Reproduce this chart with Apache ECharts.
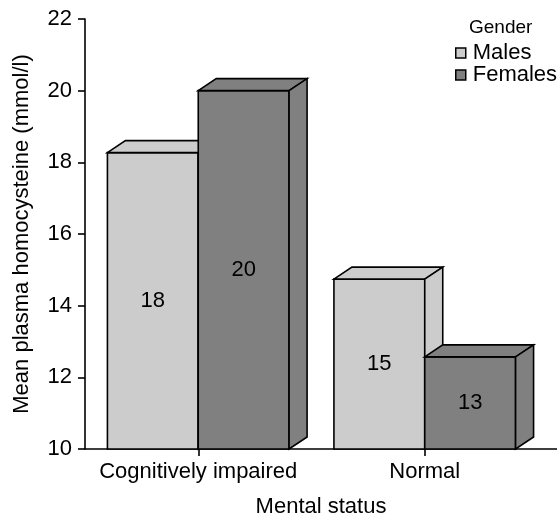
<!DOCTYPE html>
<html>
<head>
<meta charset="utf-8">
<script src="https://cdn.jsdelivr.net/npm/echarts@6/dist/echarts.min.js"></script>
<style>
html,body{margin:0;padding:0;background:#fff;}
#chart{width:557px;height:517px;}
</style>
</head>
<body>
<div id="chart"></div>
<script>
// ---- data ----
const categories = ['Cognitively impaired', 'Normal'];
const males = [18.27, 14.74];
const females = [20.0, 12.57];
const seriesNames = ['Males', 'Females'];
const yMin = 10, yMax = 22, yInterval = 2;

// ---- style ----
const FONT = "'Liberation Sans', Arial, sans-serif";
const FS = 22;
const colors = ['#cccccc', '#808080'];
const BAR_FRAC = 0.401;
const DX = 18, DY = 12;
const LW = 1.6;

function makeRender(sIdx) {
  return function (params, api) {
    const ci = api.value(0), v = api.value(1);
    const top = api.coord([ci, v]);
    const base = api.coord([ci, yMin]);
    const band = api.size([1, 0])[0];
    const bw = band * BAR_FRAC;
    const x0 = top[0] - bw + sIdx * bw;
    const yT = top[1], yB = base[1];
    const fill = colors[sIdx];
    const st = { fill: fill, stroke: '#000', lineWidth: LW, lineJoin: 'miter' };
    return {
      type: 'group',
      children: [
        { type: 'rect', shape: { x: x0, y: yT, width: bw, height: yB - yT }, style: st },
        { type: 'polygon', shape: { points: [[x0, yT], [x0 + DX, yT - DY], [x0 + bw + DX, yT - DY], [x0 + bw, yT]] }, style: st },
        { type: 'polygon', shape: { points: [[x0 + bw, yT], [x0 + bw + DX, yT - DY], [x0 + bw + DX, yB - DY], [x0 + bw, yB]] }, style: st },
        { type: 'text', x: x0 + bw / 2, y: (yT + yB) / 2,
          style: { text: String(Math.round(v)), fill: '#000', font: FS + 'px ' + FONT,
                   align: 'center', verticalAlign: 'middle', textAlign: 'center', textVerticalAlign: 'middle' } }
      ]
    };
  };
}

const chart = echarts.init(document.getElementById('chart'), null, { renderer: 'canvas' });
chart.setOption({
  animation: false,
  backgroundColor: '#fff',
  textStyle: { fontFamily: FONT },
  title: {
    text: 'Gender', left: 469, top: 18,
    textStyle: { fontSize: 19, fontWeight: 'normal', color: '#000', fontFamily: FONT },
    padding: 0
  },
  legend: {
    orient: 'vertical', left: 455, top: 42,
    itemWidth: 10, itemHeight: 10, itemGap: 0,
    icon: 'rect',
    padding: 0,
    itemStyle: { borderColor: '#000', borderWidth: 1.5 },
    textStyle: { fontSize: FS, color: '#000', fontFamily: FONT, padding: [0, 0, 0, 2] },
    data: seriesNames
  },
  grid: [
    { left: 85, right: 19, top: 19, bottom: 68, containLabel: false, outerBoundsMode: 'none' },
    { left: 85, right: 0, top: 19, bottom: 68, containLabel: false, outerBoundsMode: 'none' }
  ],
  xAxis: [
    {
      type: 'category', gridIndex: 0, data: categories,
      axisLine: { show: false },
      axisTick: { show: true, alignWithLabel: true, length: 7, lineStyle: { color: '#000', width: LW } },
      axisLabel: { fontSize: FS, color: '#000', margin: 12, fontFamily: FONT, interval: 0 },
      splitLine: { show: false }
    },
    {
      type: 'value', gridIndex: 1, min: 0, max: 1,
      name: 'Mental status', nameLocation: 'middle', nameGap: 47,
      nameTextStyle: { fontSize: FS, color: '#000', fontFamily: FONT },
      axisLine: { show: true, onZero: false, lineStyle: { color: '#000', width: LW } },
      axisTick: { show: false }, axisLabel: { show: false }, splitLine: { show: false }
    }
  ],
  yAxis: [
    {
      type: 'value', gridIndex: 0, min: yMin, max: yMax, interval: yInterval,
      name: 'Mean plasma homocysteine (mmol/l)', nameLocation: 'middle', nameGap: 52,
      nameTextStyle: { fontSize: FS, color: '#000', fontFamily: FONT },
      axisLine: { show: true, lineStyle: { color: '#000', width: LW } },
      axisTick: { show: true, length: 7, lineStyle: { color: '#000', width: LW } },
      axisLabel: { fontSize: FS, color: '#000', margin: 13, fontFamily: FONT },
      splitLine: { show: false }
    },
    { type: 'value', gridIndex: 1, show: false, min: 0, max: 1 }
  ],
  series: [
    {
      name: seriesNames[0], type: 'custom', xAxisIndex: 0, yAxisIndex: 0,
      itemStyle: { color: colors[0] },
      renderItem: makeRender(0), encode: { x: 0, y: 1 },
      data: males.map((v, i) => [i, v]), z: 3
    },
    {
      name: seriesNames[1], type: 'custom', xAxisIndex: 0, yAxisIndex: 0,
      itemStyle: { color: colors[1] },
      renderItem: makeRender(1), encode: { x: 0, y: 1 },
      data: females.map((v, i) => [i, v]), z: 4
    }
  ]
});
</script>
</body>
</html>
